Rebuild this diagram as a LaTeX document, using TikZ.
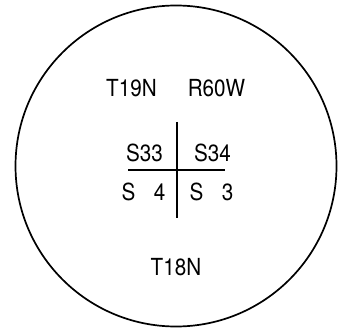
\documentclass[tikz,border=0pt]{standalone}
\usepackage{fontspec}
\setmainfont{TeX Gyre Heros}
\usepackage{tikz}
\newcommand{\cadtext}[1]{\scalebox{0.88}[1]{#1}}

\begin{document}
\begin{tikzpicture}[
      lbl/.style={font=\fontsize{23.5}{23.5}\selectfont, inner sep=0pt},
      rim/.style={draw, line width=1.7pt},
      tick/.style={draw, line width=1.3pt},
      x=1pt, y=-1pt]
    \useasboundingbox (0,0) rectangle (344,328);
    % outline
    \coordinate (ctr) at (176,166);
    \draw[rim] (ctr) circle[radius=160.5];
    % township and range
    \node[lbl] (twpn) at (131.5,88) {\cadtext{T19N}};
    \node[lbl] (rng)  at (216.5,88) {\cadtext{R60W}};
    \node[lbl] (twps) at (176,267)  {\cadtext{T18N}};
    % section corner
    \coordinate (vtop) at (177,122);
    \coordinate (vbot) at (177,218);
    \coordinate (hlft) at (128,170);
    \coordinate (hrgt) at (225,170);
    \draw[tick] (vtop) -- (vbot);
    \draw[tick] (hlft) -- (hrgt);
    \node[lbl] (s33) at (144.5,152.5) {\cadtext{S33}};
    \node[lbl] (s34) at (212.5,152.5) {\cadtext{S34}};
    \node[lbl] (s4)  at (143.5,192) {\cadtext{S\hspace{0.9em}4}};
    \node[lbl] (s3)  at (211.5,192) {\cadtext{S\hspace{0.9em}3}};
  \end{tikzpicture}
\end{document}
